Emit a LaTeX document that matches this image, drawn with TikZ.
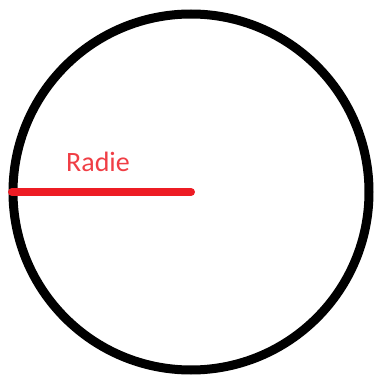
\documentclass[tikz,border=0pt]{standalone}
\usepackage{fontspec}
\setmainfont{Carlito}
\definecolor{radred}{RGB}{237, 28, 36}
\usetikzlibrary{positioning}

\begin{document}
\begin{tikzpicture}[
  x=1pt, y=1pt,
  rim/.style={draw=black, circle, line width=9pt, minimum size=356pt, inner sep=0pt},
  radline/.style={draw=radred, line width=8pt, line cap=round},
  lbl/.style={text=radred!85, font=\fontsize{28}{32}\selectfont, inner sep=0pt}
]
  \useasboundingbox (0,0) rectangle (376,378);
  \node[rim] (circ) at (191,186) {};
  \coordinate (edge) at (12,186);
  \draw[radline] (edge) -- (circ.center);
  \node[lbl] (radie) at (98,216) {Radie};
\end{tikzpicture}
\end{document}
